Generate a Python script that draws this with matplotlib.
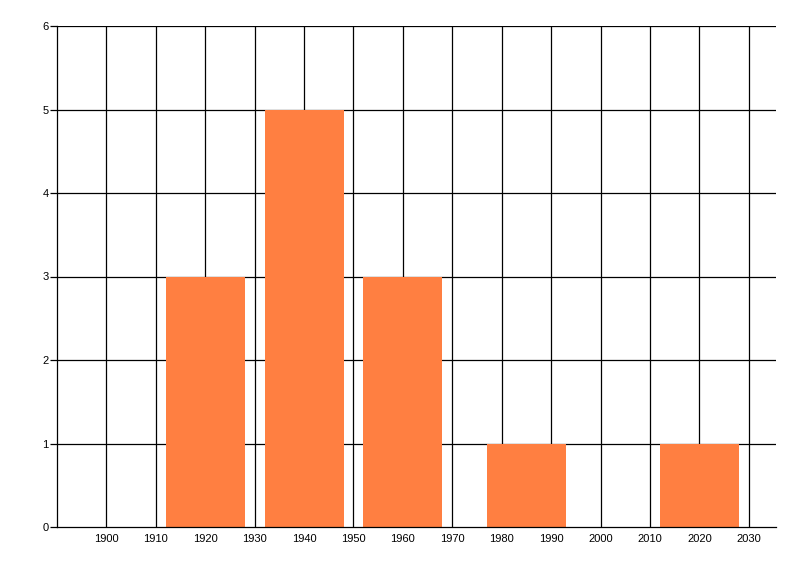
import matplotlib
matplotlib.use("Agg")
import matplotlib.pyplot as plt

# bar data (decade centres and counts)
centers = [1920, 1940, 1960, 1985, 2020]
counts = [3, 5, 3, 1, 1]
bar_width = 16

x_ticks = list(range(1900, 2031, 10))
y_ticks = [0, 1, 2, 3, 4, 5, 6]

plt.rcParams['font.family'] = ['Liberation Sans', 'DejaVu Sans']

fig = plt.figure(figsize=(8, 5.76), dpi=100)
ax = fig.add_axes([57 / 800, 49 / 576, 719 / 800, 501 / 576])

# grid lines drawn below the bars
for x in x_ticks:
    ax.axvline(x, color='black', lw=0.9, zorder=1)
for y in y_ticks[1:]:
    ax.axhline(y, color='black', lw=0.9, zorder=1)

ax.bar(centers, counts, width=bar_width, color='#FF7F41', zorder=2)

ax.set_xlim(1890, 2035.5)
ax.set_ylim(0, 6)
ax.set_xticks(x_ticks)
ax.set_yticks(y_ticks)

for side in ['top', 'right']:
    ax.spines[side].set_visible(False)
for side in ['left', 'bottom']:
    ax.spines[side].set_linewidth(0.9)

ax.tick_params(axis='x', length=0, pad=5, labelsize=8)
ax.tick_params(axis='y', length=5, width=0.9, pad=1, labelsize=8)

fig.savefig("out.png", dpi=100)
